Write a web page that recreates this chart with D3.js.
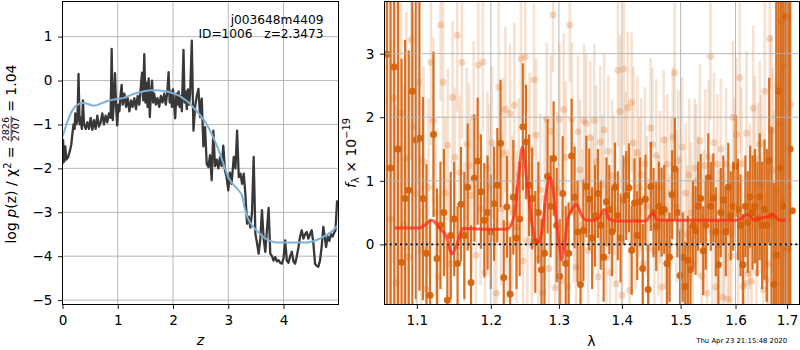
<!DOCTYPE html>
<html><head><meta charset="utf-8">
<script src="https://cdn.jsdelivr.net/npm/d3@7"></script>
<style>body{margin:0;background:#fff}svg{display:block}text{font-family:"DejaVu Sans",sans-serif;fill:#000}</style>
</head><body><svg id="c" width="800" height="350"></svg>
<script>
// ---------- left panel: p(z) ----------
const pzZ = [0.00,0.01,0.03,0.05,0.07,0.10,0.13,0.16,0.18,0.20,0.22,0.23,0.25,0.27,0.29,0.31,0.33,0.35,0.37,0.39,
0.42,0.45,0.48,0.51,0.54,0.57,0.60,0.63,0.66,0.69,0.72,0.75,0.78,0.81,0.84,0.87,0.89,0.91,0.93,0.95,
0.97,0.99,1.01,1.03,1.05,1.07,1.09,1.12,1.15,1.18,1.21,1.24,1.27,1.30,1.33,1.36,1.39,1.41,1.44,1.46,
1.48,1.50,1.52,1.54,1.56,1.58,1.60,1.62,1.64,1.66,1.69,1.72,1.75,1.78,1.81,1.84,1.87,1.90,1.92,1.94,
1.96,1.98,2.00,2.02,2.04,2.06,2.08,2.10,2.12,2.14,2.16,2.19,2.21,2.23,2.25,2.27,2.29,2.31,2.34,2.37,
2.40,2.43,2.46,2.49,2.52,2.55,2.58,2.61,2.64,2.67,2.70,2.73,2.76,2.79,2.82,2.85,2.88,2.91,2.94,2.97,
3.00,3.03,3.06,3.10,3.13,3.16,3.19,3.22,3.25,3.28,3.31,3.34,3.37,3.40,3.43,3.46,3.49,3.52,3.55,3.58,
3.61,3.64,3.67,3.70,3.73,3.76,3.79,3.82,3.85,3.88,3.91,3.94,3.97,4.00,4.03,4.06,4.09,4.12,4.15,4.18,
4.21,4.24,4.27,4.30,4.33,4.36,4.39,4.42,4.45,4.48,4.51,4.54,4.57,4.60,4.63,4.66,4.69,4.72,4.75,4.77,
4.80,4.83,4.86,4.89,4.92,4.94,4.97];
const pzLog = [-1.90,-1.35,-1.85,-1.50,-1.80,-1.75,-1.62,-1.45,-1.20,-1.00,-1.10,-0.75,-1.00,-0.90,0.15,-1.00,-0.85,-1.10,-0.45,-1.00,
-1.10,-0.95,-1.10,-0.85,-1.12,-0.90,-1.10,-0.80,-1.05,-0.95,-0.75,-1.00,-0.80,-0.95,-0.75,-0.85,0.72,-0.90,-0.45,0.17,
-0.60,-1.02,-0.55,-0.70,-0.35,-0.10,-0.55,-0.30,-0.60,-0.40,-0.70,-0.45,-0.60,-0.40,-0.65,-0.35,-0.55,-0.25,0.18,-0.45,
0.60,-0.50,-0.05,-0.60,0.05,-0.83,-0.30,0.00,-0.50,-0.30,-0.55,-0.40,-0.60,-0.35,-0.50,-0.30,-0.55,-0.20,0.19,-0.50,
-0.25,-0.60,-0.20,-0.55,-0.86,-0.30,-0.55,-0.25,-0.60,-0.35,-0.70,0.70,-0.50,-0.25,-0.65,-0.20,-0.55,-0.30,0.91,-1.14,
-0.60,-0.35,-0.19,-0.83,-0.41,-1.50,-1.06,-1.90,-1.97,-1.70,-2.27,-1.14,-1.95,-1.80,-2.00,-1.75,-1.95,-1.48,-2.05,-2.20,
-2.50,-2.10,-2.35,-1.74,-2.00,-1.14,-2.20,-2.12,-2.35,-2.12,-2.60,-3.26,-3.10,-3.35,-3.00,-1.74,-3.48,-3.70,-3.94,-3.60,
-2.95,-3.60,-3.90,-3.40,-2.90,-3.94,-4.00,-4.10,-4.02,-4.12,-4.09,-4.15,-4.17,-4.05,-3.64,-4.10,-4.15,-4.00,-3.90,-4.12,
-4.17,-4.00,-3.80,-3.55,-3.41,-3.60,-3.50,-3.45,-3.60,-3.50,-3.41,-3.70,-4.17,-4.22,-4.24,-4.10,-3.79,-3.33,-3.60,-3.79,
-3.55,-3.65,-3.50,-3.55,-3.45,-3.41,-2.73];
const smoothZ = [0.00,0.05,0.10,0.15,0.20,0.25,0.30,0.35,0.40,0.45,0.50,0.55,0.60,0.65,0.70,0.80,0.90,1.00,1.10,1.20,
1.30,1.40,1.50,1.60,1.70,1.80,1.90,2.00,2.10,2.20,2.30,2.40,2.50,2.60,2.70,2.80,2.90,3.00,3.10,3.20,
3.25,3.30,3.35,3.40,3.50,3.60,3.70,3.80,3.90,4.00,4.20,4.40,4.50,4.60,4.70,4.80,4.90,4.97];
const smoothLog = [-1.29,-1.08,-0.90,-0.75,-0.64,-0.57,-0.53,-0.51,-0.51,-0.53,-0.55,-0.57,-0.57,-0.55,-0.52,-0.47,-0.44,-0.42,-0.40,-0.35,
-0.30,-0.27,-0.24,-0.22,-0.22,-0.23,-0.25,-0.29,-0.34,-0.42,-0.52,-0.66,-0.80,-0.98,-1.22,-1.50,-1.85,-2.20,-2.38,-2.52,
-2.62,-2.92,-3.12,-3.24,-3.40,-3.52,-3.62,-3.67,-3.69,-3.69,-3.69,-3.69,-3.67,-3.63,-3.57,-3.50,-3.41,-3.31];
const zTicks = [0,1,2,3,4];
const logTicks = [-5,-4,-3,-2,-1,0,1];

// ---------- right panel: spectrum ----------
const darkWave = [1.062,1.0666,1.0712,1.0758,1.0804,1.085,1.0896,1.0942,1.0988,1.1034,
1.108,1.1126,1.1172,1.1218,1.1264,1.131,1.1356,1.1402,1.1448,1.1494,
1.154,1.1586,1.1632,1.1678,1.1724,1.177,1.1816,1.1862,1.1908,1.1954,
1.2,1.2046,1.2092,1.2138,1.2184,1.223,1.2276,1.2322,1.2368,1.2414,
1.246,1.2506,1.2552,1.2598,1.2644,1.269,1.2736,1.2782,1.2828,1.2874,
1.292,1.2966,1.3012,1.3058,1.3104,1.315,1.3196,1.3242,1.3288,1.3334,
1.338,1.3426,1.3472,1.3518,1.3564,1.361,1.3656,1.3702,1.3748,1.3794,
1.384,1.3886,1.3932,1.3978,1.4024,1.407,1.4116,1.4162,1.4208,1.4254,
1.43,1.4346,1.4392,1.4438,1.4484,1.453,1.4576,1.4622,1.4668,1.4714,
1.476,1.4806,1.4852,1.4898,1.4944,1.499,1.5036,1.5082,1.5128,1.5174,
1.522,1.5266,1.5312,1.5358,1.5404,1.545,1.5496,1.5542,1.5588,1.5634,
1.568,1.5726,1.5772,1.5818,1.5864,1.591,1.5956,1.6002,1.6048,1.6094,
1.614,1.6186,1.6232,1.6278,1.6324,1.637,1.6416,1.6462,1.6508,1.6554,
1.66,1.6646,1.6692,1.6738,1.6784,1.683,1.6876,1.6922,1.6968,1.7014,
1.706,1.7106];
const darkFlux = [2.99,1.2,2.79,1.5,-0.28,0.72,0.85,2.41,1.64,1.67,
0.72,-0.14,-0.8,1.73,-0.22,0.3,0.5,-0.88,0.14,0.4,
-0.3,0.63,0.14,0.9,-0.6,1.04,1.31,0.83,0.38,0.5,
0.2,0.64,0.93,1.59,-0.52,0.59,-0.78,0.74,0.1,0.4,
1.85,1.61,0.93,0.72,0.04,0.5,-0.4,-0.14,1.07,0.6,
1.35,0.3,-0.5,0.8,-0.3,-0.14,1.39,0.74,0.2,-0.63,
0.22,0.91,0.71,0.1,0.45,0.8,0.3,-0.2,0.67,0.55,
0.2,0.9,0.45,0.1,0.7,0.77,0.89,-0.09,0.65,0.14,
0.67,-0.38,0.71,-0.71,0.91,0.5,0.28,0.6,0.51,0.55,
-0.3,-0.2,0.78,1.19,0.5,-0.49,-0.2,-0.66,-0.25,-0.4,
0.3,0.22,0.6,0.72,-0.1,0.3,1.05,0.6,0.73,0.2,
-0.32,0.5,0.7,0.2,0.9,0.45,0.6,1.23,0.55,0.3,
-0.32,0.6,0.35,0.75,0.5,0.6,0.4,0.75,0.3,0.55,
0.3,1.32,0.45,-0.63,-0.17,2.41,1.2,0.6,3.59,-0.07,
1.5,0.53];
const darkErr = [5,4,4.5,3.5,3.2,2.5,2.2,3.5,2.5,2.4,
1.6,1.4,1.2,1.3,1.1,1.0,1.0,0.9,1.0,0.9,
0.9,0.9,1.0,1.0,0.9,1.0,1.0,0.9,0.9,0.9,
0.9,0.9,0.9,1.0,0.9,0.8,0.9,0.9,0.8,0.9,
1.0,0.9,0.8,0.8,0.8,0.8,0.8,0.8,0.9,0.8,
0.9,0.9,0.9,0.9,0.9,0.8,0.9,0.8,0.8,0.8,
0.8,0.8,0.8,0.8,0.8,0.7,0.7,0.7,0.7,0.7,
0.7,0.7,0.7,0.7,0.7,0.7,0.7,0.7,0.7,0.7,
0.7,0.7,0.7,0.7,0.7,0.7,0.7,0.7,0.7,0.7,
0.7,0.7,0.7,0.8,0.7,0.7,0.7,0.7,0.7,0.7,
0.7,0.7,0.7,0.7,0.7,0.7,0.7,0.7,0.7,0.7,
0.7,0.7,0.7,0.7,0.7,0.7,0.7,0.8,0.8,0.8,
0.8,0.8,0.8,0.8,0.9,0.9,0.9,1.0,1.0,1.1,
1.2,1.3,1.4,1.6,4.5,4.5,4.5,5,5,5,
5,0];
const lightWave = [1.0640,1.0672,1.0704,1.0736,1.0768,1.0800,1.0832,1.0864,1.0896,1.0928,
1.0960,1.0992,1.1024,1.1056,1.1088,1.1120,1.1152,1.1184,1.1216,1.1248,
1.1280,1.1312,1.1344,1.1376,1.1408,1.1440,1.1472,1.1504,1.1536,1.1568,
1.1600,1.1632,1.1664,1.1696,1.1728,1.1760,1.1792,1.1824,1.1856,1.1888,
1.1920,1.1952,1.1984,1.2016,1.2048,1.2080,1.2112,1.2144,1.2176,1.2208,
1.2240,1.2272,1.2304,1.2336,1.2368,1.2400,1.2432,1.2464,1.2496,1.2528,
1.2560,1.2592,1.2624,1.2656,1.2688,1.2720,1.2752,1.2784,1.2816,1.2848,
1.2880,1.2912,1.2944,1.2976,1.3008,1.3040,1.3072,1.3104,1.3136,1.3168,
1.3200,1.3232,1.3264,1.3296,1.3328,1.3360,1.3392,1.3424,1.3456,1.3488,
1.3520,1.3552,1.3584,1.3616,1.3648,1.3680,1.3712,1.3744,1.3776,1.3808,
1.3840,1.3872,1.3904,1.3936,1.3968,1.4000,1.4032,1.4064,1.4096,1.4128,
1.4160,1.4192,1.4224,1.4256,1.4288,1.4320,1.4352,1.4384,1.4416,1.4448,
1.4480,1.4512,1.4544,1.4576,1.4608,1.4640,1.4672,1.4704,1.4736,1.4768,
1.4800,1.4832,1.4864,1.4896,1.4928,1.4960,1.4992,1.5024,1.5056,1.5088,
1.5120,1.5152,1.5184,1.5216,1.5248,1.5280,1.5312,1.5344,1.5376,1.5408,
1.5440,1.5472,1.5504,1.5536,1.5568,1.5600,1.5632,1.5664,1.5696,1.5728,
1.5760,1.5792,1.5824,1.5856,1.5888,1.5920,1.5952,1.5984,1.6016,1.6048,
1.6080,1.6112,1.6144,1.6176,1.6208,1.6240,1.6272,1.6304,1.6336,1.6368,
1.6400,1.6432,1.6464,1.6496,1.6528,1.6560,1.6592,1.6624,1.6656,1.6688,
1.6720,1.6752,1.6784,1.6816,1.6848,1.6880,1.6912,1.6944,1.6976,1.7008,
1.7040,1.7072];
const lightFlux = [1.2,0.4,2.3,-0.6,1.5,2.06,0.3,1.35,-0.2,3.22,
1.85,0.8,2.55,-0.1,1.3,-0.7,0.9,2.86,1.95,0.5,
-0.51,3.45,2.55,0.81,1.56,-0.3,2.31,1.37,3.29,1.13,
2.86,0.2,1.58,1.24,0.77,2.0,-0.17,2.82,0.56,2.87,
-0.44,1.2,0.9,1.6,0.1,-0.77,2.47,0.56,1.43,2.12,
0.3,2.06,0.51,2.19,0.27,1.1,2.92,-0.26,2.95,0.06,
1.5,-0.01,2.59,1.72,-0.22,0.86,-0.76,0.72,1.97,-0.38,
1.78,3.61,-0.68,0.88,1.97,-0.58,2.12,1.37,-0.67,3.45,
1.97,0.5,-0.36,1.77,1.17,0.3,1.95,1.9,-0.1,1.68,
0.6,1.95,1.3,-0.51,1.61,0.93,1.8,-0.2,1.46,-0.44,
1.08,0.93,-0.62,2.74,2.09,-0.8,2.76,1.3,2.15,-0.72,
2.23,1.6,0.4,1.44,0.9,1.1,-0.3,1.27,0.6,-0.06,
1.83,1.57,-0.1,1.4,0.3,0.9,-0.67,1.64,0.5,1.26,
0.0,0.8,1.69,2.7,0.6,1.32,0.2,1.53,-0.67,0.81,
0.15,1.09,0.5,-0.3,1.2,1.0,0.6,1.63,-0.5,0.38,
1.24,-0.77,1.38,2.96,0.17,1.6,-0.67,1.26,-0.02,1.5,
-0.83,0.04,1.26,-0.86,0.17,-0.18,2.0,1.22,1.73,-0.18,
2.62,1.27,-0.66,-0.61,1.75,-0.46,0.6,-0.58,2.14,1.35,
-0.44,0.93,1.58,0.95,-0.71,2.41,-0.55,-0.31,3.24,1.79,
1.17,0.4,0.85,2.5,1.9,3.52,0.7,2.8,1.5,3.55,
0.9,2.2];
const lightErr = [3.0,2.8,2.6,2.8,2.5,2.4,2.2,2.3,2.0,1.9,
1.8,1.7,1.6,1.5,1.5,1.4,1.4,1.3,1.3,1.3,
1.3,1.2,1.3,1.2,1.2,1.3,1.2,1.1,1.2,1.2,
1.2,1.1,1.2,1.3,1.2,1.2,1.1,1.2,1.2,1.1,
1.2,1.2,1.3,1.2,1.1,1.2,1.4,1.2,1.2,1.3,
1.2,1.1,1.2,1.3,1.2,1.2,1.0,1.2,0.9,1.2,
1.2,1.3,1.2,1.2,1.3,1.2,1.2,1.3,1.2,1.3,
1.2,0.9,1.3,1.2,1.2,1.3,1.2,1.2,1.3,0.9,
1.2,1.1,1.2,1.2,1.1,1.2,1.2,1.1,1.2,1.2,
1.1,1.2,1.2,1.1,1.2,1.1,1.2,1.1,1.2,1.1,
1.2,1.1,1.2,1.2,1.2,1.1,1.2,1.1,1.2,1.1,
1.1,1.2,1.1,1.2,1.1,1.2,1.1,1.2,1.1,1.1,
1.1,1.2,1.1,1.2,1.1,1.2,1.1,1.1,1.2,1.1,
1.1,1.2,1.1,1.1,1.2,1.1,1.2,1.1,1.2,1.1,
1.1,1.2,1.1,1.2,1.1,1.2,1.1,1.2,1.1,1.1,
1.2,1.1,1.2,1.0,1.2,1.1,1.2,1.1,1.2,1.1,
1.2,1.1,1.2,1.2,1.1,1.2,1.2,1.1,1.2,1.2,
1.2,1.2,1.2,1.2,1.3,1.2,1.3,1.2,1.3,1.3,
1.3,1.3,1.3,1.4,1.4,1.4,1.4,1.5,0.8,1.5,
1.6,1.7,1.8,2.0,2.2,2.5,2.8,3.0,3.0,3.2,
3.5,3.5];
const modelWave = [1.072,1.104,1.112,1.1195,1.1303,1.1394,1.1459,1.1525,1.1614,1.19,1.2229,1.2334,1.2397,1.2455,1.2529,1.2603,
1.2653,1.2702,1.2751,1.2811,1.2863,1.2913,1.2954,1.3005,1.3046,1.3081,1.3132,1.3209,1.3272,1.3341,1.342,1.355,
1.363,1.3712,1.3792,1.39,1.44,1.4513,1.46,1.6,1.6072,1.623,1.6358,1.6496,1.66,1.6714,1.6847,1.698];
const modelFlux = [0.26,0.26,0.32,0.38,0.25,0.11,-0.15,-0.02,0.25,0.24,0.24,0.45,1.06,1.53,0.9,0.27,
0.06,0.04,0.27,0.85,1.06,0.85,0.43,0.01,-0.25,-0.04,0.38,0.56,0.63,0.48,0.38,0.38,
0.42,0.55,0.40,0.37,0.37,0.49,0.38,0.38,0.39,0.47,0.38,0.42,0.43,0.47,0.38,0.38];
const waveTicks = [1.1,1.2,1.3,1.4,1.5,1.6,1.7];
const fluxTicks = [0,1,2,3];

// ---------- drawing ----------
const svg = d3.select("#c");
svg.append("rect").attr("width",800).attr("height",350).attr("fill","#fff");
const defs = svg.append("defs");
const GRID = "#b0b0b0", TICK_FS = 13.6, LAB_FS = 14;

const L = {l:62.5, r:338.5, t:1.5, b:304.5};
const xL = d3.scaleLinear().domain([0,4.995]).range([L.l,L.r]);
const yL = d3.scaleLinear().domain([-5.1,1.8]).range([L.b,L.t]);
defs.append("clipPath").attr("id","clipL").append("rect")
  .attr("x",L.l).attr("y",L.t).attr("width",L.r-L.l).attr("height",L.b-L.t);

const R = {l:384.5, r:799.5, t:1.5, b:304.5};
const xR = d3.scaleLog().domain([1.059,1.725]).range([R.l,R.r]);
const yR = d3.scaleLinear().domain([-0.945,3.82]).range([R.b,R.t]);
defs.append("clipPath").attr("id","clipR").append("rect")
  .attr("x",R.l).attr("y",R.t).attr("width",R.r-R.l).attr("height",R.b-R.t);

function grid(g, xs, ys, x, y, P){
  g.selectAll("line.gx").data(xs).join("line").attr("class","gx")
    .attr("x1",d=>x(d)).attr("x2",d=>x(d)).attr("y1",P.t).attr("y2",P.b)
    .attr("stroke",GRID).attr("stroke-width",0.9);
  g.selectAll("line.gy").data(ys).join("line").attr("class","gy")
    .attr("y1",d=>y(d)).attr("y2",d=>y(d)).attr("x1",P.l).attr("x2",P.r)
    .attr("stroke",GRID).attr("stroke-width",0.9);
}
function axes(x, y, xt, yt, P, xfmt, yfmt){
  const ax = svg.append("g").attr("transform",`translate(0,${P.b})`)
    .call(d3.axisBottom(x).tickValues(xt).tickFormat(xfmt).tickSize(4.5).tickPadding(6).tickSizeOuter(0));
  const ay = svg.append("g").attr("transform",`translate(${P.l},0)`)
    .call(d3.axisLeft(y).tickValues(yt).tickFormat(yfmt).tickSize(4.5).tickPadding(5.5).tickSizeOuter(0));
  [ax,ay].forEach(a=>{
    a.select(".domain").remove();
    a.selectAll("text").attr("font-size",TICK_FS).attr("font-family","DejaVu Sans").attr("fill","#000");
    a.selectAll("line").attr("stroke","#000").attr("stroke-width",0.9);
  });
  svg.append("rect").attr("x",P.l).attr("y",P.t).attr("width",P.r-P.l).attr("height",P.b-P.t)
    .attr("fill","none").attr("stroke","#000").attr("stroke-width",1);
}

// left panel
const gLg = svg.append("g");
grid(gLg, zTicks, logTicks, xL, yL, L);
const gLd = svg.append("g").attr("clip-path","url(#clipL)");
gLd.append("path").datum(d3.range(pzZ.length))
  .attr("d", d3.line().x(i=>xL(pzZ[i])).y(i=>yL(pzLog[i])))
  .attr("fill","none").attr("stroke","#383838").attr("stroke-width",2.3).attr("stroke-linejoin","round");
gLd.append("path").datum(d3.range(smoothZ.length))
  .attr("d", d3.line().curve(d3.curveMonotoneX).x(i=>xL(smoothZ[i])).y(i=>yL(smoothLog[i])))
  .attr("fill","none").attr("stroke","#7fb1d7").attr("stroke-width",2);
axes(xL, yL, zTicks, logTicks, L, d3.format("d"), d3.format("d"));

svg.append("text").attr("x",323.5).attr("y",24).attr("text-anchor","end").attr("font-size",12.2).text("j003648m4409");
svg.append("text").attr("x",323.5).attr("y",38.3).attr("text-anchor","end").attr("font-size",12.2)
  .style("white-space","pre").text("ID=1006   z=2.3473");
svg.append("text").attr("x",200.5).attr("y",345).attr("text-anchor","middle").attr("font-size",LAB_FS)
  .attr("font-style","italic").text("z");

// left y label with stacked fraction
const gLab = svg.append("g").attr("transform","translate(16,154) rotate(-90)");
const inner = gLab.append("g");
const t1 = inner.append("text").attr("font-size",LAB_FS).style("white-space","pre");
t1.append("tspan").text("log ");
t1.append("tspan").attr("font-style","italic").text("p");
t1.append("tspan").text("(z) / χ");
t1.append("tspan").attr("font-size",9.8).attr("dy",-5.5).text("2");
t1.append("tspan").attr("dy",5.5).text(" = ");
const w1 = t1.node().getComputedTextLength();
const num = inner.append("text").attr("font-size",9.5).attr("text-anchor","middle").text("2826");
const den = inner.append("text").attr("font-size",9.5).attr("text-anchor","middle").text("2707");
const fw = Math.max(num.node().getComputedTextLength(), den.node().getComputedTextLength()) + 1.5;
num.attr("x", w1 + fw/2).attr("y",-6.8);
den.attr("x", w1 + fw/2).attr("y",3.2);
inner.append("line").attr("x1",w1).attr("x2",w1+fw).attr("y1",-4.8).attr("y2",-4.8).attr("stroke","#000").attr("stroke-width",0.8);
const t3 = inner.append("text").attr("font-size",LAB_FS).style("white-space","pre").attr("x",w1+fw).text(" = 1.04");
const total = w1 + fw + t3.node().getComputedTextLength();
inner.attr("transform",`translate(${-total/2},0)`);

// right panel
const gRd = svg.append("g").attr("clip-path","url(#clipR)");
const ORANGE = "#d5620c";
const lightIdx = d3.range(Math.min(lightWave.length, lightFlux.length, lightErr.length));
const darkIdx = d3.range(Math.min(darkWave.length, darkFlux.length, darkErr.length));
const gl = gRd.append("g").attr("fill",ORANGE).attr("stroke",ORANGE);
gl.selectAll("line").data(lightIdx.filter(i=>lightErr[i]>0)).join("line")
  .attr("x1",i=>xR(lightWave[i])).attr("x2",i=>xR(lightWave[i]))
  .attr("y1",i=>yR(lightFlux[i]-lightErr[i])).attr("y2",i=>yR(lightFlux[i]+lightErr[i]))
  .attr("stroke-width",2.6).attr("stroke-opacity",0.19);
gl.selectAll("circle").data(lightIdx).join("circle")
  .attr("cx",i=>xR(lightWave[i])).attr("cy",i=>yR(lightFlux[i])).attr("r",3.5)
  .attr("stroke","none").attr("fill-opacity",0.24);
const gd = gRd.append("g").attr("fill",ORANGE).attr("stroke",ORANGE);
gd.selectAll("line").data(darkIdx.filter(i=>darkErr[i]>0)).join("line")
  .attr("x1",i=>xR(darkWave[i])).attr("x2",i=>xR(darkWave[i]))
  .attr("y1",i=>yR(darkFlux[i]-darkErr[i])).attr("y2",i=>yR(darkFlux[i]+darkErr[i]))
  .attr("stroke-width",2.2).attr("stroke-opacity",0.9);
gd.selectAll("circle").data(darkIdx).join("circle")
  .attr("cx",i=>xR(darkWave[i])).attr("cy",i=>yR(darkFlux[i])).attr("r",3.5)
  .attr("stroke","none").attr("fill-opacity",0.95);

const gRg = svg.append("g");
grid(gRg, waveTicks, fluxTicks, xR, yR, R);
const gRm = svg.append("g").attr("clip-path","url(#clipR)");
gRm.append("line").attr("x1",R.l).attr("x2",R.r).attr("y1",yR(0)).attr("y2",yR(0))
  .attr("stroke","#000").attr("stroke-width",1.8).attr("stroke-dasharray","2,3.2");
gRm.append("path").datum(d3.range(modelWave.length))
  .attr("d", d3.line().curve(d3.curveMonotoneX).x(i=>xR(modelWave[i])).y(i=>yR(modelFlux[i])))
  .attr("fill","none").attr("stroke","#ff2a1a").attr("stroke-opacity",0.75).attr("stroke-width",3);
axes(xR, yR, waveTicks, fluxTicks, R, d3.format(".1f"), d3.format("d"));

svg.append("text").attr("x",591.5).attr("y",346).attr("text-anchor","middle").attr("font-size",LAB_FS).text("λ");
const rl = svg.append("g").attr("transform","translate(355.5,153) rotate(-90)")
  .append("text").attr("text-anchor","middle").attr("font-size",LAB_FS).style("white-space","pre");
rl.append("tspan").attr("font-style","italic").text("f");
rl.append("tspan").attr("font-size",9.8).attr("dy",3).text("λ");
rl.append("tspan").attr("dy",-3).text(" × 10");
rl.append("tspan").attr("font-size",9.8).attr("dy",-5.5).text("−19");

svg.append("text").attr("x",741.7).attr("y",342.5).attr("text-anchor","middle").attr("font-size",6.9)
  .text("Thu Apr 23 21:15:48 2020");
</script></body></html>
